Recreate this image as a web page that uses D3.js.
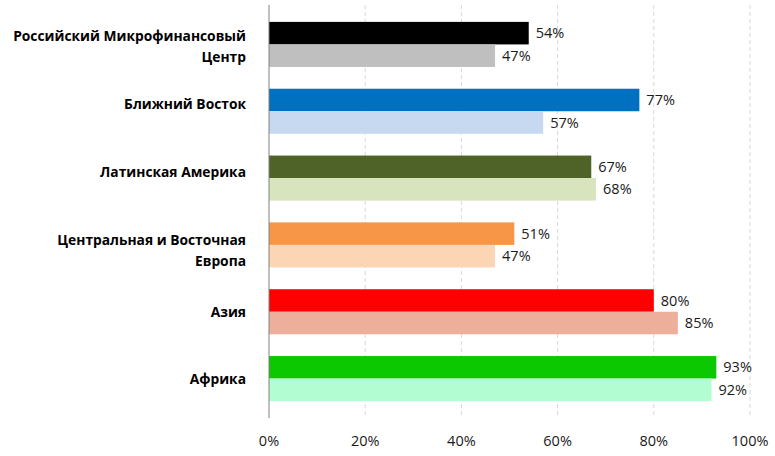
<!DOCTYPE html>
<html>
<head>
<meta charset="utf-8">
<script src="https://cdn.jsdelivr.net/npm/d3@7"></script>
<style>
  body { margin: 0; background: #fff; }
  text { font-family: "Open Sans", "Noto Sans", sans-serif; }
</style>
</head>
<body>
<div id="chart"></div>
<script>
var categories = [
  'Российский Микрофинансовый Центр',
  'Ближний Восток',
  'Латинская Америка',
  'Центральная и Восточная Европа',
  'Азия',
  'Африка'
];
var labelLines = [
  ['Российский Микрофинансовый', 'Центр'],
  ['Ближний Восток'],
  ['Латинская Америка'],
  ['Центральная и Восточная', 'Европа'],
  ['Азия'],
  ['Африка']
];
var seriesA = [0.54, 0.77, 0.67, 0.51, 0.80, 0.93];
var seriesB = [0.47, 0.57, 0.68, 0.47, 0.85, 0.92];
var colorsA = ['#000000', '#0070c0', '#4f6228', '#f79646', '#ff0000', '#0cc800'];
var colorsB = ['#bfbfbf', '#c6d9f1', '#d7e4bd', '#fcd5b5', '#eeae9c', '#b2fed2'];
var ticks = [0, 0.2, 0.4, 0.6, 0.8, 1.0];

document.addEventListener('DOMContentLoaded', function() {
  var width = 775,
      height = 456,
      svg = d3.select('#chart').append('svg')
              .attr('width', width)
              .attr('height', height);

  var x = d3.scaleLinear().domain([0, 1]).range([269, 750]);
  var y = d3.scaleBand()
    .domain(categories)
    .range([11, 412])
    .paddingInner(0.326)
    .paddingOuter(0.163);
  var sub = d3.scaleBand().domain(['a', 'b']).range([0, y.bandwidth()]);

  // label nudges so the category text sits where the original put it
  var labelNudge = [2, -7, -6, 6, 0, 1];

  // dashed gridlines
  svg.append('g').selectAll('line')
    .data(ticks.slice(1))
    .enter().append('line')
    .attr('x1', function(d) { return x(d); })
    .attr('x2', function(d) { return x(d); })
    .attr('y1', 5)
    .attr('y2', 418)
    .attr('stroke', '#d9d9d9')
    .attr('stroke-dasharray', '4,3');

  var rows = categories.map(function(c, i) {
    return { cat: c, a: seriesA[i], b: seriesB[i], ca: colorsA[i], cb: colorsB[i], lines: labelLines[i], nudge: labelNudge[i] };
  });

  var bars = [];
  rows.forEach(function(r) {
    bars.push({ cat: r.cat, key: 'a', v: r.a, color: r.ca });
    bars.push({ cat: r.cat, key: 'b', v: r.b, color: r.cb });
  });

  svg.append('g').selectAll('rect')
    .data(bars)
    .enter().append('rect')
    .attr('x', x(0))
    .attr('y', function(d) { return y(d.cat) + sub(d.key); })
    .attr('width', function(d) { return x(d.v) - x(0); })
    .attr('height', sub.bandwidth())
    .attr('fill', function(d) { return d.color; });

  svg.append('g').selectAll('text')
    .data(bars)
    .enter().append('text')
    .attr('x', function(d) { return x(d.v) + 7; })
    .attr('y', function(d) { return y(d.cat) + sub(d.key) + sub.bandwidth() / 2; })
    .attr('dy', '0.35em')
    .attr('font-size', 14.5)
    .attr('fill', '#1a1a1a')
    .text(function(d) { return Math.round(d.v * 100) + '%'; });

  // axis line
  svg.append('line')
    .attr('x1', x(0)).attr('x2', x(0))
    .attr('y1', 5).attr('y2', 418)
    .attr('stroke', '#808080');

  // category labels
  var cats = svg.append('g').selectAll('text')
    .data(rows)
    .enter().append('text')
    .attr('text-anchor', 'end')
    .attr('font-weight', 'bold')
    .attr('font-size', 13.8)
    .attr('fill', '#000');

  cats.selectAll('tspan')
    .data(function(r) {
      var n = r.lines.length;
      var mid = y(r.cat) + y.bandwidth() / 2 + r.nudge;
      return r.lines.map(function(t, k) { return { t: t, y: mid + (k - (n - 1) / 2) * 21 }; });
    })
    .enter().append('tspan')
    .attr('x', 246)
    .attr('y', function(d) { return d.y; })
    .attr('dy', '0.35em')
    .text(function(d) { return d.t; });

  // tick labels
  svg.append('g').selectAll('text')
    .data(ticks)
    .enter().append('text')
    .attr('x', function(d) { return x(d); })
    .attr('y', 446)
    .attr('text-anchor', 'middle')
    .attr('font-size', 14.5)
    .attr('fill', '#1a1a1a')
    .text(d3.format('.0%'));
});
</script>
</body>
</html>
